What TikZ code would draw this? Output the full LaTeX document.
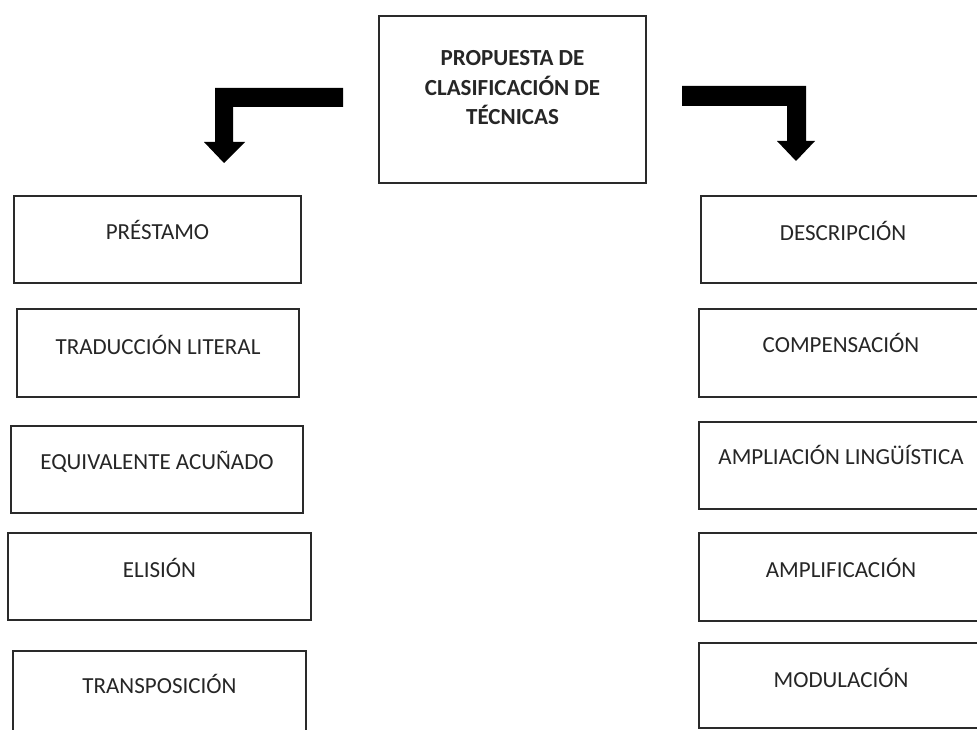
\documentclass[tikz,border=0pt]{standalone}
\usepackage{fontspec}
\setmainfont{Carlito}
\definecolor{txt}{HTML}{262626}
\definecolor{edge}{HTML}{2A2A2A}
\tikzset{
  box/.style={draw=edge, line width=1.6pt, fill=white, inner sep=0pt},
  lbl/.style={text=txt, font=\fontsize{23}{29.5}\selectfont, inner sep=0pt, anchor=center},
  ttl/.style={text=txt, font=\fontsize{23}{29.5}\selectfont\bfseries, inner sep=0pt, align=center, anchor=center},
  rbox/.style={box, minimum width=310pt, anchor=west},
  blockarrow/.style={fill=black, draw=none}
}
\begin{document}
\begin{tikzpicture}[x=1pt,y=-1pt]
\useasboundingbox (0,0) rectangle (977,730);
% centre box
\node[box, minimum width=267pt, minimum height=167pt] (top) at (512.5,99.5) {};
\node[ttl] (toptxt) at (512.5,88) {PROPUESTA DE\\CLASIFICACIÓN DE\\TÉCNICAS};
% block arrows
\coordinate (la) at (343,88);
\coordinate (ra) at (682,86);
\path[blockarrow] (la) -- (215,88) -- (215,142) -- (204,142) -- (224,163) -- (245,142) -- (233,142) -- (233,107) -- (343,107) -- cycle;
\path[blockarrow] (ra) -- (806,86) -- (806,141) -- (815,141) -- (796,161) -- (777,141) -- (787,141) -- (787,106) -- (682,106) -- cycle;
% left column
\node[box, minimum width=287pt, minimum height=87pt] (l1) at (157.5,239.5) {};
\node[lbl] (l1t) at (157.5,230) {PRÉSTAMO};
\node[box, minimum width=282pt, minimum height=88pt] (l2) at (158,353) {};
\node[lbl] (l2t) at (158,345) {TRADUCCIÓN LITERAL};
\node[box, minimum width=292pt, minimum height=87pt] (l3) at (157,469.5) {};
\node[lbl] (l3t) at (157,462) {EQUIVALENTE ACUÑADO};
\node[box, minimum width=303pt, minimum height=87pt] (l4) at (159.5,576.5) {};
\node[lbl] (l4t) at (159.5,568) {ELISIÓN};
\node[box, minimum width=293pt, minimum height=100pt] (l5) at (159.5,701) {};
\node[lbl] (l5t) at (159.5,684) {TRANSPOSICIÓN};
% right column (running off the right edge)
\node[rbox, minimum height=87pt] (r1) at (700,239.5) {};
\node[lbl] (r1t) at (843,231) {DESCRIPCIÓN};
\node[rbox, minimum height=88pt] (r2) at (698,353) {};
\node[lbl] (r2t) at (841,343) {COMPENSACIÓN};
\node[rbox, minimum height=87pt] (r3) at (698,465.5) {};
\node[lbl] (r3t) at (841,455) {AMPLIACIÓN LINGÜÍSTICA};
\node[rbox, minimum height=88pt] (r4) at (698,577) {};
\node[lbl] (r4t) at (841,568) {AMPLIFICACIÓN};
\node[rbox, minimum height=85pt] (r5) at (698,685.5) {};
\node[lbl] (r5t) at (841,678) {MODULACIÓN};
\end{tikzpicture}
\end{document}
